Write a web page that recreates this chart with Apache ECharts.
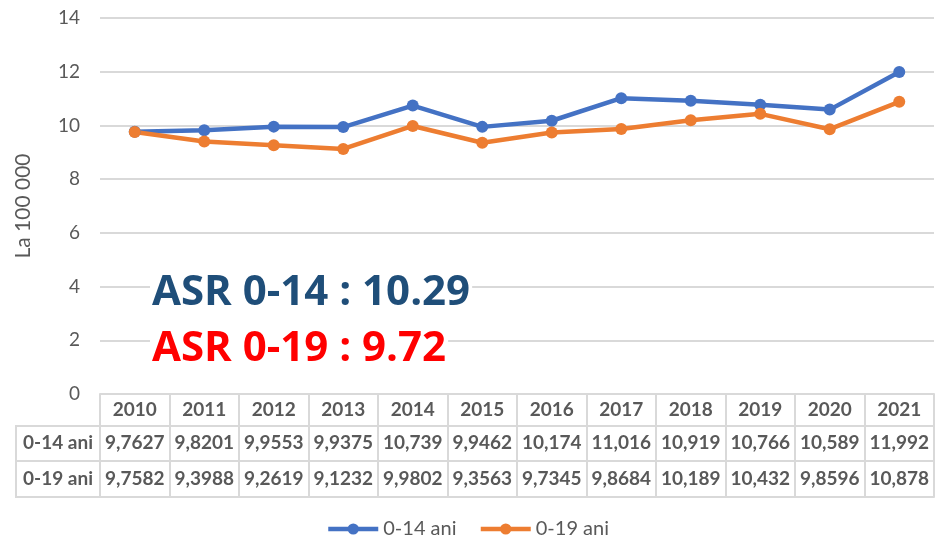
<!DOCTYPE html>
<html>
<head>
<meta charset="utf-8">
<script src="https://cdn.jsdelivr.net/npm/echarts@6/dist/echarts.min.js"></script>
<style>
  html, body { margin: 0; padding: 0; background: #fff; }
  #chart { width: 935px; height: 537px; }
</style>
</head>
<body>
<div id="chart"></div>
<script>
// Incidence per 100 000, two age groups
const years = ['2010', '2011', '2012', '2013', '2014', '2015', '2016', '2017', '2018', '2019', '2020', '2021'];
const rate014 = [9.7627, 9.8201, 9.9553, 9.9375, 10.739, 9.9462, 10.174, 11.016, 10.919, 10.766, 10.589, 11.992];
const rate019 = [9.7582, 9.3988, 9.2619, 9.1232, 9.9802, 9.3563, 9.7345, 9.8684, 10.189, 10.432, 9.8596, 10.878];
const seriesNames = ['0-14 ani', '0-19 ani'];
const asrLines = ['ASR 0-14 : 10.29', 'ASR 0-19 : 9.72'];

const GRAY = '#595959';
const LINE = '#d9d9d9';
const FONT = 'Lato, "Open Sans", sans-serif';
const TABLE_FS = 19;

const fmt = (v) => String(v).replace('.', ',');

const chart = echarts.init(document.getElementById('chart'), null, { renderer: 'canvas' });

// table row axes share the same categories, only labels differ
const tableAxis = (offset, margin, labels) => ({
  type: 'category',
  data: years,
  position: 'bottom',
  offset: offset,
  axisLine: { show: true, lineStyle: { color: LINE, width: 2 } },
  axisTick: { show: false },
  axisLabel: {
    show: !!labels,
    margin: margin,
    interval: 0,
    color: GRAY,
    fontFamily: FONT,
    fontWeight: 'bold',
    fontSize: TABLE_FS,
    formatter: (v, i) => (labels ? fmt(labels[i]) : ''),
  },
  splitLine: { show: false },
});

const option = {
  backgroundColor: '#fff',
  animation: false,
  grid: { left: 100, right: 1, top: 18, bottom: 143 },
  legend: {
    data: seriesNames,
    bottom: -7,
    left: 'center',
    itemWidth: 50,
    itemHeight: 14,
    itemGap: 22,
    lineStyle: { width: 4.5 },
    textStyle: { color: GRAY, fontFamily: FONT, fontSize: 20 },
  },
  xAxis: [
    {
      type: 'category',
      data: years,
      position: 'bottom',
      axisLine: { show: true, lineStyle: { color: LINE, width: 2 } },
      axisTick: { show: true, length: 103, lineStyle: { color: LINE, width: 2 } },
      axisLabel: {
        interval: 0,
        margin: 6,
        color: GRAY,
        fontFamily: FONT,
        fontWeight: 'bold',
        fontSize: TABLE_FS,
      },
      splitLine: { show: false },
    },
    tableAxis(32, 7, rate014),
    tableAxis(67, 8, rate019),
    tableAxis(103, 8, null),
  ],
  yAxis: {
    type: 'value',
    min: 0,
    max: 14,
    interval: 2,
    name: 'La 100 000',
    nameLocation: 'middle',
    nameGap: 66,
    nameTextStyle: { color: GRAY, fontFamily: FONT, fontSize: 21 },
    axisLine: { show: false },
    axisTick: { show: false },
    axisLabel: { color: GRAY, fontFamily: FONT, fontSize: 19, margin: 20 },
    splitLine: { lineStyle: { color: LINE, width: 2 } },
  },
  series: [
    {
      name: seriesNames[0],
      type: 'line',
      data: rate014,
      symbol: 'circle',
      symbolSize: 12,
      itemStyle: { color: '#4472c4' },
      lineStyle: { width: 4.5, color: '#4472c4' },
    },
    {
      name: seriesNames[1],
      type: 'line',
      data: rate019,
      symbol: 'circle',
      symbolSize: 12,
      itemStyle: { color: '#ed7d31' },
      lineStyle: { width: 4.5, color: '#ed7d31' },
    },
  ],
  graphic: [
    // row-label cells left of the data table
    {
      type: 'rect',
      shape: { x: 16, y: 426, width: 84, height: 71 },
      style: { fill: 'none', stroke: LINE, lineWidth: 2 },
      silent: true,
    },
    {
      type: 'line',
      shape: { x1: 16, y1: 461, x2: 100, y2: 461 },
      style: { stroke: LINE, lineWidth: 2 },
      silent: true,
    },
    {
      type: 'text',
      x: 58, y: 443,
      style: { text: seriesNames[0], fill: GRAY, font: 'bold ' + TABLE_FS + 'px ' + FONT, align: 'center', verticalAlign: 'middle' },
    },
    {
      type: 'text',
      x: 58, y: 479,
      style: { text: seriesNames[1], fill: GRAY, font: 'bold ' + TABLE_FS + 'px ' + FONT, align: 'center', verticalAlign: 'middle' },
    },
    // ASR annotations (white box hides the gridline behind)
    {
      type: 'text',
      x: 150, y: 293,
      z: 100,
      style: {
        text: asrLines[0], fill: '#1f4e79', font: 'bold 42px "Open Sans", sans-serif',
        verticalAlign: 'middle', backgroundColor: '#fff', padding: [0, 2, 0, 2],
      },
    },
    {
      type: 'text',
      x: 150, y: 349,
      z: 100,
      style: {
        text: asrLines[1], fill: '#ff0000', font: 'bold 42px "Open Sans", sans-serif',
        verticalAlign: 'middle', backgroundColor: '#fff', padding: [0, 2, 0, 2],
      },
    },
  ],
};

chart.setOption(option);
</script>
</body>
</html>
